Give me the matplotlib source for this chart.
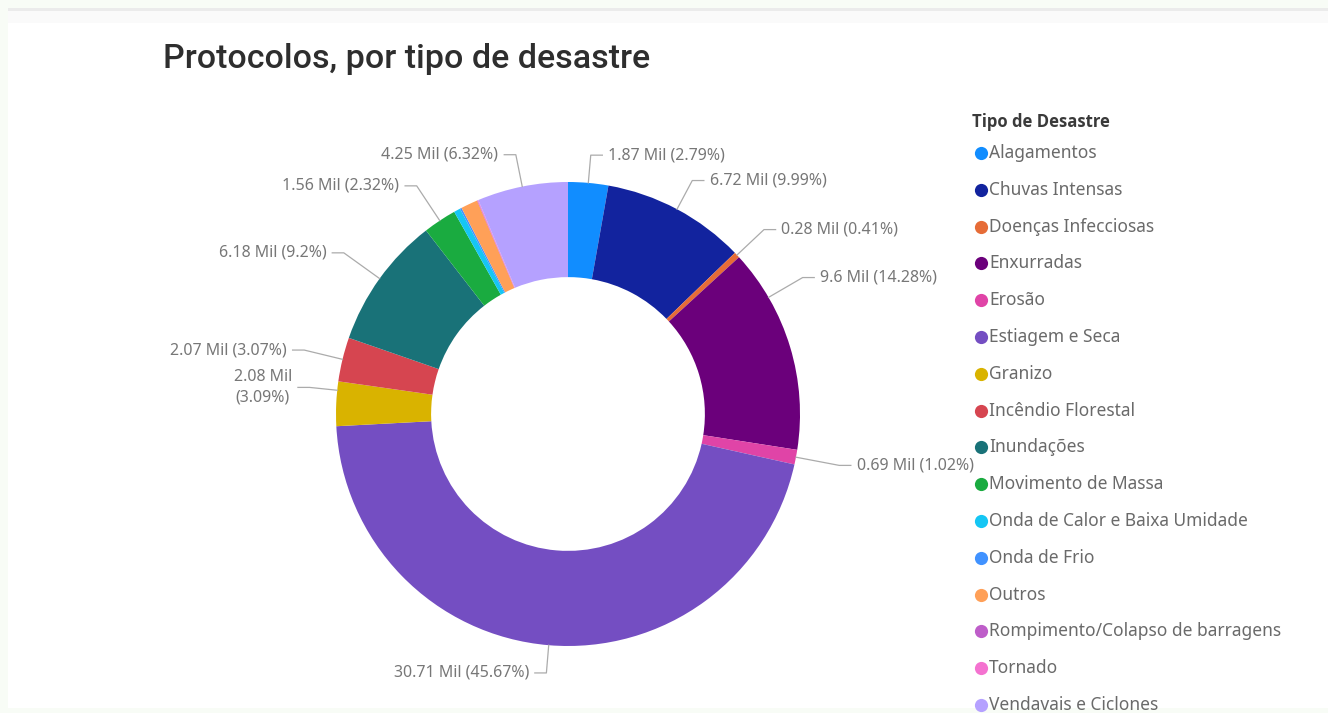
import numpy as np
import matplotlib
matplotlib.use("Agg")
import matplotlib.pyplot as plt
from matplotlib.patches import Rectangle
from matplotlib.lines import Line2D

# protocol counts per disaster type (thousands) and share of total (%)
categories = [
    "Alagamentos", "Chuvas Intensas", "Doenças Infecciosas", "Enxurradas",
    "Erosão", "Estiagem e Seca", "Granizo", "Incêndio Florestal",
    "Inundações", "Movimento de Massa", "Onda de Calor e Baixa Umidade",
    "Onda de Frio", "Outros", "Rompimento/Colapso de barragens", "Tornado",
    "Vendavais e Ciclones",
]
mil_values = [1.87, 6.72, 0.28, 9.6, 0.69, 30.71, 2.08, 2.07,
              6.18, 1.56, 0.30, 0.08, 0.79, 0.03, 0.03, 4.25]
pct_values = [2.79, 9.99, 0.41, 14.28, 1.02, 45.67, 3.09, 3.07,
              9.2, 2.32, 0.45, 0.12, 1.18, 0.04, 0.05, 6.32]

colors = ["#118DFF", "#12239E", "#E66C37", "#6B007B", "#E044A7", "#744EC2",
          "#D9B300", "#D64550", "#197278", "#1AAB40", "#15C6F4", "#4092FF",
          "#FFA058", "#BE5DC9", "#F472D0", "#B5A1FF"]

# leader line layout per labelled slice: (anchor fraction inside slice, elbow radius, line break)
label_layout = {
    0: (0.5, 1.12, False),
    1: (0.5, 1.14, False),
    2: (0.5, 1.16, False),
    3: (0.24, 1.17, False),
    4: (0.5, 1.19, False),
    5: (0.5, 1.12, False),
    6: (0.8, 1.12, True),
    7: (0.5, 1.17, False),
    8: (0.5, 1.19, False),
    9: (0.5, 1.18, False),
    15: (0.5, 1.14, False),
}

W, H = 1328, 713
fig = plt.figure(figsize=(W / 100, H / 100), dpi=100, facecolor="#F8FCF6")

# white card with a soft top shadow
bg = fig.add_axes([0, 0, 1, 1])
bg.set_xlim(0, W)
bg.set_ylim(H, 0)
bg.axis("off")
bg.add_patch(Rectangle((8, 8), W - 8, H - 13, facecolor="white", edgecolor="none"))
bg.add_patch(Rectangle((8, 8), W - 8, 3, facecolor="#EBEBEB", edgecolor="none"))
bg.add_patch(Rectangle((8, 11), W - 8, 12, facecolor="#FAFAFA", edgecolor="none"))

bg.text(163, 68, "Protocolos, por tipo de desastre", fontsize=24.5, family="Roboto",
        fontweight="medium", color="#2E2E2E", ha="left", va="baseline")

# donut
cx, cy, R = 568, 414, 232
ax = fig.add_axes([(cx - R) / W, (H - cy - R) / H, 2 * R / W, 2 * R / H])
wedges, _ = ax.pie(pct_values, colors=colors, startangle=90, counterclock=False,
                   radius=1.0, wedgeprops=dict(width=0.41, edgecolor="none"))
ax.set_xlim(-1, 1)
ax.set_ylim(-1, 1)
ax.set_aspect("equal")
ax.axis("off")

total = sum(pct_values)
start = 0.0
for i, p in enumerate(pct_values):
    if i in label_layout:
        frac, r_el, wrap = label_layout[i]
        theta = np.deg2rad((start + frac * p) / total * 360)
        x0, y0 = np.sin(theta), np.cos(theta)
        xe, ye = r_el * x0, r_el * y0
        side = 1 if xe >= 0 else -1
        xt = xe + side * 0.05
        ax.add_line(Line2D([x0, xe, xt], [y0, ye, ye], color="#ABABAB", lw=0.9,
                           clip_on=False))
        txt = f"{mil_values[i]:g} Mil ({pct_values[i]:g}%)"
        if wrap:
            txt = txt.replace(" (", "\n(")
        ax.text(xt + side * 0.025, ye, txt, fontsize=11.5, family="Noto Sans",
                color="#777777", ha="left" if side > 0 else "right",
                va="center", ma="center", linespacing=1.4, clip_on=False)
    start += p

# legend
bg.text(972, 122, "Tipo de Desastre", fontsize=12, family="Open Sans",
        fontweight="bold", color="#3A3A3A", ha="left", va="center")
for k, (name, c) in enumerate(zip(categories, colors)):
    y = 153 + k * 36.8
    bg.plot(981, y, "o", ms=9.5, color=c, mec="none")
    bg.text(989, y, name, fontsize=12.5, family="Noto Sans", color="#6A6A6A",
            ha="left", va="center")

fig.savefig("out.png", dpi=100, facecolor=fig.get_facecolor())
